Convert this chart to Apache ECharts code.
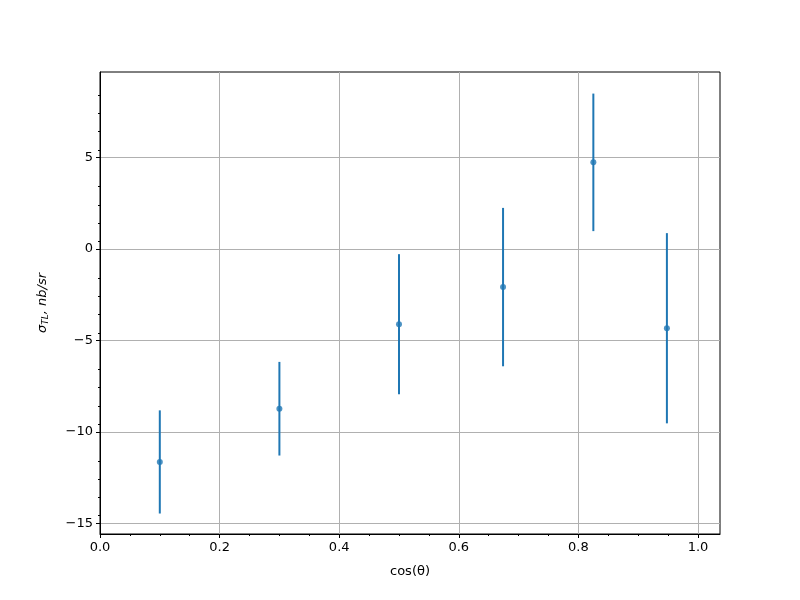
<!DOCTYPE html>
<html>
<head>
<meta charset="utf-8">
<script src="https://cdn.jsdelivr.net/npm/echarts@6/dist/echarts.min.js"></script>
<style>html,body{margin:0;padding:0;background:#fff}#c{width:800px;height:600px}</style>
</head>
<body>
<div id="c"></div>
<script>
const cosTheta = [0.1, 0.3, 0.5, 0.674, 0.825, 0.948];
const sigmaTL = [-11.65, -8.74, -4.12, -2.09, 4.73, -4.34];
const sigmaErr = [2.82, 2.56, 3.83, 4.33, 3.76, 5.2];
const xTicks = [0, 0.2, 0.4, 0.6, 0.8, 1.0];
const yTicks = [-15, -10, -5, 0, 5];

const pts = cosTheta.map((x, i) => [x, sigmaTL[i]]);
const bars = cosTheta.map((x, i) => [x, sigmaTL[i] - sigmaErr[i], sigmaTL[i] + sigmaErr[i]]);
const fmtY = v => (v < 0 ? '\u2212' + Math.abs(v) : String(v));
const blue = '#1f77b4';
const font = 'DejaVu Sans';

const chart = echarts.init(document.getElementById('c'), null, {renderer: 'canvas'});
chart.setOption({
  animation: false,
  backgroundColor: '#fff',
  grid: {left: 100, top: 72, width: 620, height: 462, show: true, borderColor: '#000', borderWidth: 1, backgroundColor: 'transparent'},
  xAxis: {
    type: 'value', min: 0, max: 1.0368, interval: 0.2,
    name: 'cos(\u03b8)', nameLocation: 'middle', nameGap: 31,
    nameTextStyle: {fontFamily: font, fontSize: 13, color: '#000'},
    axisLine: {show: true, onZero: false, lineStyle: {color: '#000', width: 1}},
    axisTick: {show: true, length: 4, lineStyle: {color: '#000'}, customValues: xTicks},
    minorTick: {show: true, splitNumber: 4, length: 2, lineStyle: {color: '#000'}},
    axisLabel: {fontFamily: font, fontSize: 13, color: '#000', margin: 7, customValues: xTicks, formatter: v => v.toFixed(1)},
    splitLine: {show: true, lineStyle: {color: '#b0b0b0', width: 1}},
    minorSplitLine: {show: false}
  },
  yAxis: {
    type: 'value', min: -15.59, max: 9.67, interval: 5,
    name: '{i|\u03c3}{s|TL}{i|, nb/sr}', nameLocation: 'middle', nameGap: 50, nameRotate: 90,
    nameTextStyle: {fontFamily: font, fontSize: 13, color: '#000',
      rich: {i: {fontFamily: font, fontStyle: 'italic', fontSize: 13, color: '#000'},
             s: {fontFamily: font, fontStyle: 'italic', fontSize: 9, color: '#000', verticalAlign: 'bottom', padding: [6, 0, 0, 0]}}},
    axisLine: {show: true, onZero: false, lineStyle: {color: '#000', width: 1}},
    axisTick: {show: true, length: 4, lineStyle: {color: '#000'}, customValues: yTicks},
    minorTick: {show: true, splitNumber: 5, length: 2, lineStyle: {color: '#000'}},
    axisLabel: {fontFamily: font, fontSize: 13, color: '#000', margin: 7, customValues: yTicks, formatter: fmtY},
    splitLine: {show: true, lineStyle: {color: '#b0b0b0', width: 1}},
    minorSplitLine: {show: false}
  },
  series: [
    {
      type: 'custom',
      data: bars,
      encode: {x: 0, y: [1, 2]},
      renderItem: function (params, api) {
        const x = api.value(0);
        const lo = api.coord([x, api.value(1)]);
        const hi = api.coord([x, api.value(2)]);
        return {type: 'line', shape: {x1: lo[0], y1: lo[1], x2: hi[0], y2: hi[1]},
                style: {stroke: blue, lineWidth: 2}};
      },
      z: 2
    },
    {
      type: 'scatter', data: pts, symbol: 'circle', symbolSize: 6,
      itemStyle: {color: blue}, z: 3
    }
  ]
});
</script>
</body>
</html>
